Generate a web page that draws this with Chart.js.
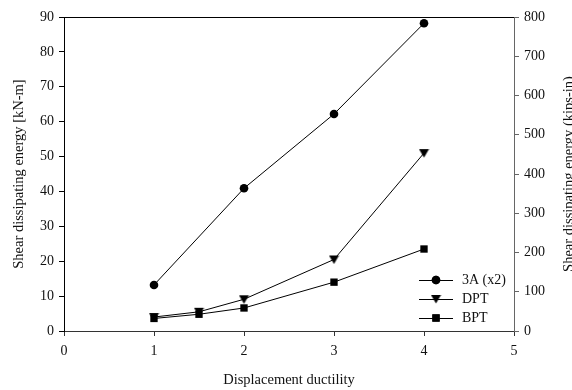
<!DOCTYPE html>
<html>
<head>
<meta charset="utf-8">
<script src="https://cdn.jsdelivr.net/npm/chart.js@4/dist/chart.umd.min.js"></script>
<style>
  html, body { margin: 0; padding: 0; background: #fff; }
  canvas { display: block; }
</style>
</head>
<body>
<canvas id="chart" width="572" height="390"></canvas>
<script>
// ductility steps and dissipated shear energy (kN-m) per specimen
const ductility3A = [1, 2, 3, 4];
const energy3A = [13.2, 40.9, 62.2, 88.2];
const ductilityDPT = [1, 1.5, 2, 3, 4];
const energyDPT = [4.0, 5.5, 9.1, 20.5, 51.0];
const ductilityBPT = [1, 1.5, 2, 3, 4];
const energyBPT = [3.6, 4.8, 6.6, 14.0, 23.5];

const seriesNames = ['3A (x2)', 'DPT', 'BPT'];
const xTicks = [0, 1, 2, 3, 4, 5];
const leftTicks = [0, 10, 20, 30, 40, 50, 60, 70, 80, 90];
const rightTicks = [0, 100, 200, 300, 400, 500, 600, 700, 800];

const serif = '"Liberation Serif", "DejaVu Serif", serif';
const pts = (xs, ys) => xs.map((x, i) => ({ x, y: ys[i] }));

// downward triangle marker
const tri = document.createElement('canvas');
tri.width = 11; tri.height = 10;
(() => {
  const c = tri.getContext('2d');
  c.fillStyle = '#000';
  c.beginPath(); c.moveTo(0.5, 1); c.lineTo(10.5, 1); c.lineTo(5.5, 9.5); c.closePath(); c.fill();
})();

function series(label, data, style, radius) {
  return {
    label, data,
    showLine: true,
    borderColor: '#000', borderWidth: 1,
    backgroundColor: '#000',
    pointStyle: style, pointRadius: radius,
    pointBorderColor: '#000', pointBackgroundColor: '#000', pointBorderWidth: 0,
    yAxisID: 'y'
  };
}

const datasets = [
  series(seriesNames[0], pts(ductility3A, energy3A), 'circle', 4.3),
  series(seriesNames[1], pts(ductilityDPT, energyDPT), tri, 5),
  series(seriesNames[2], pts(ductilityBPT, energyBPT), 'rect', 5.2)
];

// frame top line, axis titles and the small legend in the corner
const decorations = {
  id: 'decorations',
  afterDraw(chart) {
    const { ctx, chartArea: a } = chart;
    ctx.save();
    ctx.strokeStyle = '#000'; ctx.lineWidth = 1;
    ctx.beginPath(); ctx.moveTo(a.left, a.top + 0.5); ctx.lineTo(a.right, a.top + 0.5); ctx.stroke();

    ctx.fillStyle = '#111';
    ctx.font = '14.5px ' + serif;
    ctx.textAlign = 'center'; ctx.textBaseline = 'middle';
    ctx.fillText('Displacement ductility', (a.left + a.right) / 2, 380);
    const midY = (a.top + a.bottom) / 2;
    [[19, 'Shear dissipating energy [kN-m]'], [569, 'Shear dissipating energy (kips-in)']].forEach(([x, t]) => {
      ctx.save(); ctx.translate(x, midY); ctx.rotate(-Math.PI / 2);
      ctx.fillText(t, 0, 0); ctx.restore();
    });

    // legend
    ctx.font = '14px ' + serif;
    const rows = [280, 299, 318];
    datasets.forEach((ds, i) => {
      const y = rows[i];
      ctx.strokeStyle = '#000'; ctx.lineWidth = 1;
      ctx.beginPath(); ctx.moveTo(419, y + 0.5); ctx.lineTo(453, y + 0.5); ctx.stroke();
      if (ds.pointStyle === tri) {
        ctx.drawImage(tri, 436 - 5.5, y - 5);
      } else {
        Chart.helpers.drawPoint(ctx, { pointStyle: ds.pointStyle, radius: ds.pointRadius, borderWidth: 0 }, 436, y);
        ctx.fillStyle = '#000'; ctx.fill();
      }
      ctx.fillStyle = '#111';
      ctx.textAlign = 'left';
      ctx.fillText(ds.label, 462, y);
    });
    ctx.restore();
  }
};

Chart.defaults.font.family = serif;
Chart.defaults.font.size = 14;
Chart.defaults.color = '#111';

new Chart(document.getElementById('chart'), {
  type: 'scatter',
  data: { datasets },
  options: {
    responsive: false,
    animation: false,
    devicePixelRatio: 1,
    layout: { padding: { top: 17, left: 0, right: 0, bottom: 0 } },
    plugins: { legend: { display: false }, tooltip: { enabled: false } },
    scales: {
      x: {
        type: 'linear', min: 0, max: 5,
        afterBuildTicks: s => { s.ticks = xTicks.map(v => ({ value: v })); },
        ticks: { padding: 7, font: { size: 14 } },
        grid: { drawOnChartArea: false, tickLength: 5, color: '#333' },
        border: { color: '#333' },
        afterFit: s => { s.height = 59; }
      },
      y: {
        position: 'left', min: 0, max: 90,
        afterBuildTicks: s => { s.ticks = leftTicks.map(v => ({ value: v })); },
        ticks: { padding: 5, font: { size: 14 } },
        grid: { drawOnChartArea: false, tickLength: 5, color: '#000' },
        border: { color: '#000' },
        afterFit: s => { s.width = 64; }
      },
      y2: {
        position: 'right', min: 0, max: 800,
        afterBuildTicks: s => { s.ticks = rightTicks.map(v => ({ value: v })); },
        ticks: { padding: 5, font: { size: 14 } },
        grid: { drawOnChartArea: false, tickLength: 5, color: '#666' },
        border: { color: '#666' },
        afterFit: s => { s.width = 58; }
      }
    }
  },
  plugins: [decorations]
});
</script>
</body>
</html>
